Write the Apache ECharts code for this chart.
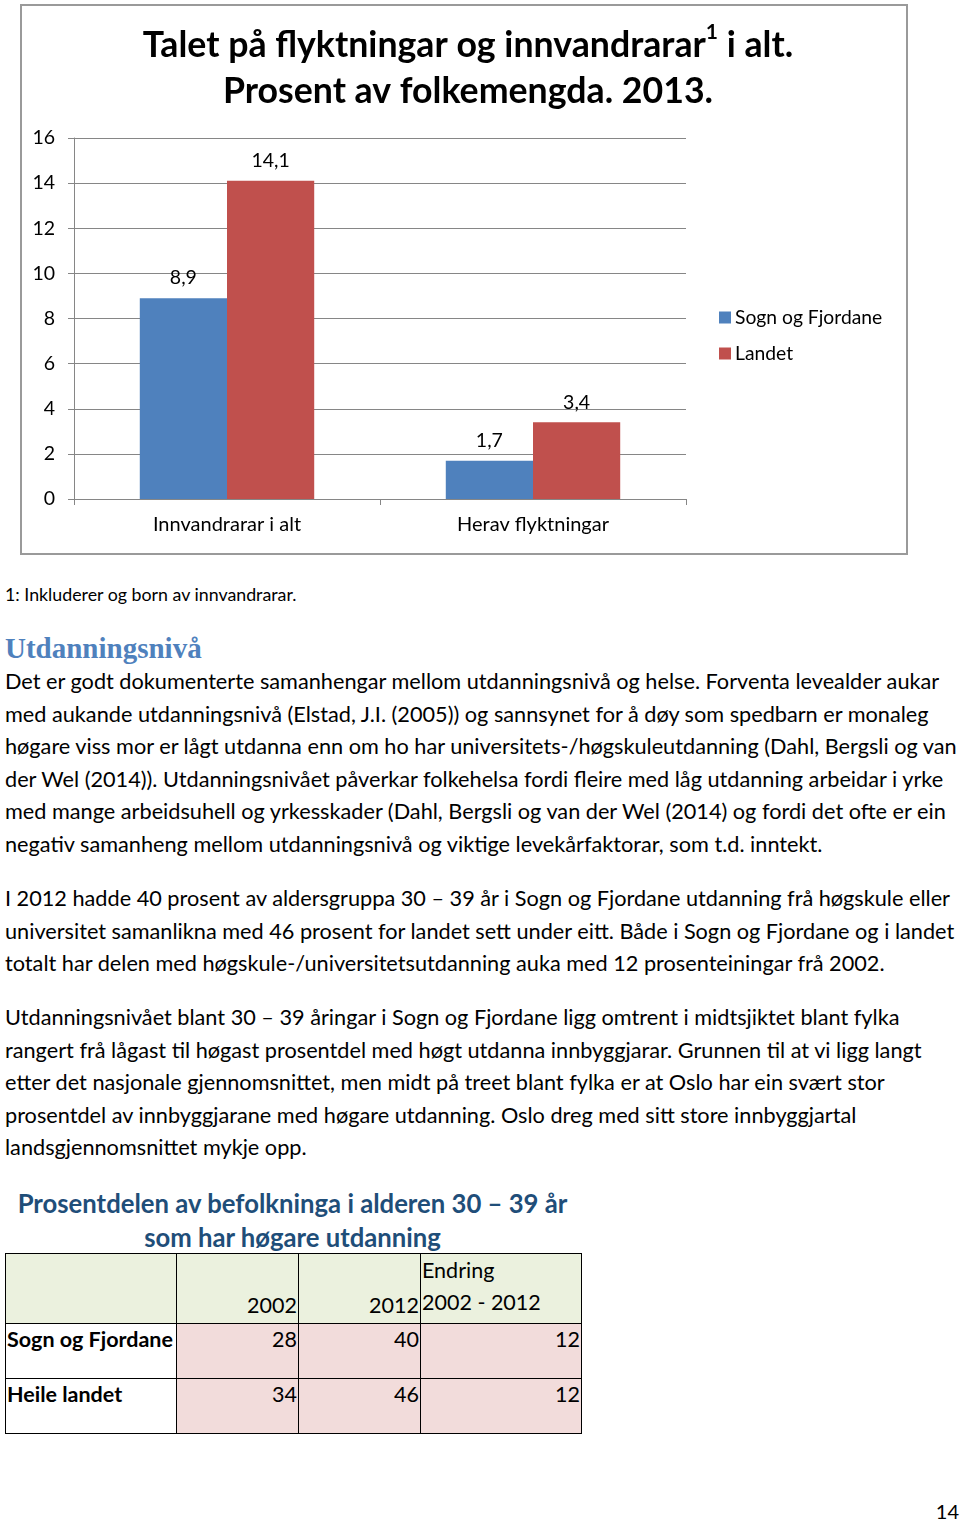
<!DOCTYPE html>
<html>
<head>
<meta charset="utf-8">
<script src="https://cdn.jsdelivr.net/npm/echarts@6/dist/echarts.min.js"></script>
<style>
  html, body { margin: 0; padding: 0; background: #fff; }
  body { width: 960px; height: 1522px; position: relative; overflow: hidden; font-family: Lato, "Open Sans", sans-serif; color: #000; }
  #chart { position: absolute; left: 0; top: 0; width: 960px; height: 560px; }
  .abs { position: absolute; white-space: nowrap; }
  .body { font-size: 21.7px; line-height: 32.6px; left: 5px; }
  .foot { font-size: 17.8px; left: 5px; top: 582px; line-height: 24px; }
  .h1 { left: 5px; top: 628px; font-family: "Liberation Serif", "DejaVu Serif", serif; font-weight: bold; font-size: 29px; color: #4F81BD; line-height: 40px; }
  .ttitle { left: 5px; width: 575px; text-align: center; font-weight: bold; font-size: 25.7px; color: #1F4E79; line-height: 34px; top: 1186px; }
  table { position: absolute; left: 5px; top: 1253px; border-collapse: collapse; font-size: 21.5px; table-layout: fixed; width: 576px; }
  td { border: 1px solid #000; padding: 0 1px; vertical-align: top; box-sizing: border-box; overflow: hidden; white-space: nowrap; }
  .hdr td { background: #EBF1DE; height: 69px; vertical-align: bottom; padding-bottom: 5px; }
  .row td { height: 55px; background: #F2DCDB; text-align: right; padding-top: 2px; }
  .row td.lab { background: #fff; text-align: left; font-weight: bold; }
  .pg { right: 1px; top: 1499px; font-size: 20px; }
</style>
</head>
<body>
<div id="chart"></div>

<div class="abs foot">1: Inkluderer og born av innvandrarar.</div>
<div class="abs h1">Utdanningsnivå</div>
<div class="abs body" style="top:665px">Det er godt dokumenterte samanhengar mellom utdanningsnivå og helse. Forventa levealder aukar<br>med aukande utdanningsnivå (Elstad, J.I. (2005)) og sannsynet for å døy som spedbarn er monaleg<br>høgare viss mor er lågt utdanna enn om ho har universitets-/høgskuleutdanning (Dahl, Bergsli og van<br>der Wel (2014)). Utdanningsnivået påverkar folkehelsa fordi fleire med låg utdanning arbeidar i yrke<br>med mange arbeidsuhell og yrkesskader (Dahl, Bergsli og van der Wel (2014) og fordi det ofte er ein<br>negativ samanheng mellom utdanningsnivå og viktige levekårfaktorar, som t.d. inntekt.</div>
<div class="abs body" style="top:882px">I 2012 hadde 40 prosent av aldersgruppa 30 – 39 år i Sogn og Fjordane utdanning frå høgskule eller<br>universitet samanlikna med 46 prosent for landet sett under eitt. Både i Sogn og Fjordane og i landet<br>totalt har delen med høgskule-/universitetsutdanning auka med 12 prosenteiningar frå 2002.</div>
<div class="abs body" style="top:1001px">Utdanningsnivået blant 30 – 39 åringar i Sogn og Fjordane ligg omtrent i midtsjiktet blant fylka<br>rangert frå lågast til høgast prosentdel med høgt utdanna innbyggjarar. Grunnen til at vi ligg langt<br>etter det nasjonale gjennomsnittet, men midt på treet blant fylka er at Oslo har ein svært stor<br>prosentdel av innbyggjarane med høgare utdanning. Oslo dreg med sitt store innbyggjartal<br>landsgjennomsnittet mykje opp.</div>

<div class="abs ttitle">Prosentdelen av befolkninga i alderen 30 – 39 år<br>som har høgare utdanning</div>
<table id="tbl"></table>
<div class="abs pg">14</div>

<script>
// ---- chart data ----
const categories = ['Innvandrarar i alt', 'Herav flyktningar'];
const seriesNames = ['Sogn og Fjordane', 'Landet'];
const sognValues = [8.9, 1.7];
const landetValues = [14.1, 3.4];
const yTicks = [0, 2, 4, 6, 8, 10, 12, 14, 16];

// ---- table data ----
const tableYears = ['2002', '2012'];
const tableChangeHead = ['Endring', '2002 - 2012'];
const tableRows = ['Sogn og Fjordane', 'Heile landet'];
const tableVal2002 = [28, 34];
const tableVal2012 = [40, 46];
const tableChange = [12, 12];

// build table
(function () {
  const t = document.getElementById('tbl');
  const widths = [171, 122, 122, 161];
  let html = '<colgroup>' + widths.map(w => '<col style="width:' + w + 'px">').join('') + '</colgroup>';
  html += '<tr class="hdr"><td></td>';
  html += '<td style="text-align:right">' + tableYears[0] + '</td>';
  html += '<td style="text-align:right">' + tableYears[1] + '</td>';
  html += '<td style="text-align:left;line-height:32px">' + tableChangeHead[0] + '<br>' + tableChangeHead[1] + '</td></tr>';
  for (let i = 0; i < tableRows.length; i++) {
    html += '<tr class="row"><td class="lab">' + tableRows[i] + '</td><td>' + tableVal2002[i] + '</td><td>' + tableVal2012[i] + '</td><td>' + tableChange[i] + '</td></tr>';
  }
  t.innerHTML = html;
})();

const FONT = 'Lato';
const chart = echarts.init(document.getElementById('chart'), null, { renderer: 'canvas' });
const fmt = p => String(p.value).replace('.', ',');
chart.setOption({
  animation: false,
  textStyle: { fontFamily: FONT },
  graphic: [{
    type: 'rect', left: 20, top: 4, z: -1,
    shape: { width: 886, height: 549 },
    style: { fill: '#fff', stroke: '#9a9a9a', lineWidth: 2 }
  }],
  title: {
    text: 'Talet på flyktningar og innvandrarar{sup|1} i alt.\nProsent av folkemengda. 2013.',
    left: 463, top: 17, textAlign: 'center',
    textStyle: {
      fontFamily: FONT, fontWeight: 'bold', fontSize: 35.7, color: '#000', lineHeight: 46,
      rich: { sup: { fontSize: 21, fontWeight: 'bold', fontFamily: FONT, verticalAlign: 'top', padding: [0, 0, 8, 0], color: '#000' } }
    }
  },
  legend: {
    orient: 'vertical', left: 714, top: 303, itemWidth: 12, itemHeight: 12, itemGap: 17,
    icon: 'rect',
    textStyle: { fontFamily: FONT, fontSize: 19.3, color: '#000', padding: [0, 0, 0, -1] },
    data: seriesNames
  },
  grid: { left: 74, right: 274, top: 138, bottom: 61 },
  xAxis: {
    type: 'category', data: categories,
    axisLine: { lineStyle: { color: '#868686', width: 1 } },
    axisTick: { show: true, length: 6, lineStyle: { color: '#868686' } },
    axisLabel: { fontFamily: FONT, fontSize: 20, color: '#000', margin: 16 }
  },
  yAxis: {
    type: 'value', min: yTicks[0], max: yTicks[yTicks.length - 1], interval: 2,
    axisLine: { show: true, lineStyle: { color: '#868686', width: 1 } },
    axisTick: { show: true, length: 6, lineStyle: { color: '#868686' } },
    axisLabel: { fontFamily: FONT, fontSize: 19.5, color: '#000', margin: 19 },
    splitLine: { lineStyle: { color: '#868686', width: 1 } }
  },
  series: [
    {
      name: seriesNames[0], type: 'bar', data: sognValues, barGap: '0%', barCategoryGap: '43%',
      itemStyle: { color: '#4F81BD' },
      label: { show: true, position: 'top', distance: 10, fontFamily: FONT, fontSize: 19.5, color: '#000', formatter: fmt }
    },
    {
      name: seriesNames[1], type: 'bar', data: landetValues, barGap: '0%', barCategoryGap: '43%',
      itemStyle: { color: '#C0504D' },
      label: { show: true, position: 'top', distance: 10, fontFamily: FONT, fontSize: 19.5, color: '#000', formatter: fmt }
    }
  ]
});
</script>
</body>
</html>
